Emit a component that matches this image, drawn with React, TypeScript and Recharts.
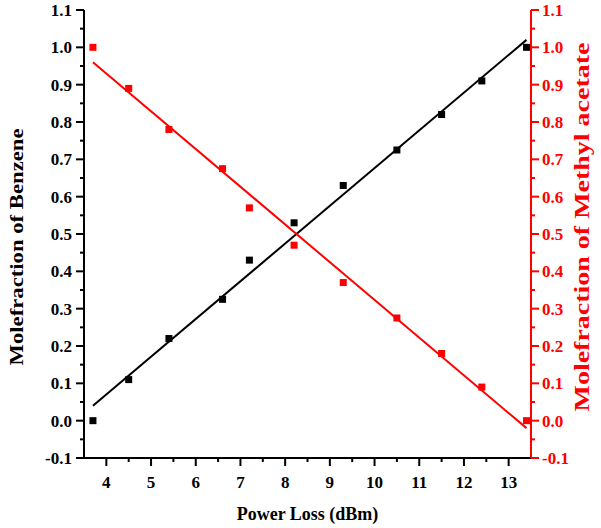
import React from "react";
import { ComposedChart, Scatter, XAxis, YAxis } from "recharts";

document.body.style.margin = "0";

// measured power loss (dBm)
const powerLoss = [3.7, 4.5, 5.4, 6.6, 7.2, 8.2, 9.3, 10.5, 11.5, 12.4, 13.4];
const benzeneFrac = [0.0, 0.11, 0.22, 0.325, 0.43, 0.53, 0.63, 0.725, 0.82, 0.91, 1.0];
const methylFrac = [1.0, 0.89, 0.78, 0.675, 0.57, 0.47, 0.37, 0.275, 0.18, 0.09, 0.0];

// linear fit end points
const fitX = [3.7, 13.4];
const benzeneFitY = [0.04, 1.02];
const methylFitY = [0.96, -0.02];

const xMajor = [4, 5, 6, 7, 8, 9, 10, 11, 12, 13];
const xMinor = [4.5, 5.5, 6.5, 7.5, 8.5, 9.5, 10.5, 11.5, 12.5];
const yMajor = [-0.1, 0.0, 0.1, 0.2, 0.3, 0.4, 0.5, 0.6, 0.7, 0.8, 0.9, 1.0, 1.1];
const yMinor = yMajor.slice(0, -1).map((v) => Math.round((v + 0.05) * 100) / 100);

const benzene = powerLoss.map((x, i) => ({ x, y: benzeneFrac[i] }));
const methyl = powerLoss.map((x, i) => ({ x, y: methylFrac[i] }));
const benzeneFit = fitX.map((x, i) => ({ x, y: benzeneFitY[i] }));
const methylFit = fitX.map((x, i) => ({ x, y: methylFitY[i] }));

const FONT = "'Liberation Serif', 'Times New Roman', serif";
const RED = "#ff0000";

const isMajor = (list: number[], v: number) => list.some((m) => Math.abs(m - v) < 1e-6);

const BottomTick = (props: any) => {
  const { x, y, payload } = props;
  const major = isMajor(xMajor, payload.value);
  return (
    <g>
      <line x1={x} x2={x} y1={y} y2={y + (major ? 8 : 4)} stroke="#000" strokeWidth={2} />
      {major && (
        <text x={x} y={y + 30} textAnchor="middle" fontFamily={FONT} fontWeight="bold" fontSize={17} fill="#000">
          {payload.value}
        </text>
      )}
    </g>
  );
};

const TopTick = (props: any) => {
  const { x, y, payload } = props;
  const major = isMajor(xMajor, payload.value);
  return <line x1={x} x2={x} y1={y} y2={y + (major ? 9 : 5)} stroke="#000" strokeWidth={2} />;
};

const LeftTick = (props: any) => {
  const { x, y, payload } = props;
  const major = isMajor(yMajor, payload.value);
  return (
    <g>
      <line x1={x - (major ? 8 : 4)} x2={x} y1={y} y2={y} stroke="#000" strokeWidth={2} />
      {major && (
        <text x={x - 12} y={y + 6} textAnchor="end" fontFamily={FONT} fontWeight="bold" fontSize={17} fill="#000">
          {payload.value.toFixed(1)}
        </text>
      )}
    </g>
  );
};

const RightTick = (props: any) => {
  const { x, y, payload } = props;
  const major = isMajor(yMajor, payload.value);
  return (
    <g>
      <line x1={x} x2={x + (major ? 8 : 4)} y1={y} y2={y} stroke={RED} strokeWidth={2} />
      {major && (
        <text x={x + 11} y={y + 6} textAnchor="start" fontFamily={FONT} fontWeight="bold" fontSize={17} fill={RED}>
          {payload.value.toFixed(1)}
        </text>
      )}
    </g>
  );
};

const square = (color: string) => (props: any) => (
  <rect x={props.cx - 3.5} y={props.cy - 3.5} width={7} height={7} fill={color} />
);
const noDot = () => <g />;

export default function App() {
  return (
    <div style={{ width: 601, height: 528, background: "#fff" }}>
      <ComposedChart width={601} height={528} margin={{ top: 10, right: 0, bottom: 0, left: 0 }}>
        <XAxis
          dataKey="x"
          type="number"
          domain={[3.5, 13.5]}
          ticks={[...xMajor, ...xMinor]}
          interval={0}
          height={70}
          tickSize={0}
          tickMargin={0}
          tickLine={false}
          tick={<BottomTick />}
          axisLine={{ stroke: "#000", strokeWidth: 2 }}
          allowDataOverflow
        />
        <XAxis
          xAxisId="top"
          orientation="top"
          dataKey="x"
          type="number"
          domain={[3.5, 13.5]}
          ticks={[...xMajor, ...xMinor]}
          interval={0}
          height={0}
          tickSize={0}
          tickMargin={0}
          tickLine={false}
          tick={<TopTick />}
          axisLine={{ stroke: "#000", strokeWidth: 2 }}
          allowDataOverflow
        />
        <YAxis
          yAxisId="left"
          dataKey="y"
          type="number"
          domain={[-0.1, 1.1]}
          ticks={[...yMajor, ...yMinor]}
          interval={0}
          width={84}
          tickSize={0}
          tickMargin={0}
          tickLine={false}
          tick={<LeftTick />}
          axisLine={{ stroke: "#000", strokeWidth: 2 }}
          allowDataOverflow
        />
        <YAxis
          yAxisId="right"
          orientation="right"
          dataKey="y"
          type="number"
          domain={[-0.1, 1.1]}
          ticks={[...yMajor, ...yMinor]}
          interval={0}
          width={70}
          tickSize={0}
          tickMargin={0}
          tickLine={false}
          tick={<RightTick />}
          axisLine={{ stroke: RED, strokeWidth: 2 }}
          allowDataOverflow
        />
        <Scatter
          data={benzeneFit}
          yAxisId="left"
          line={{ stroke: "#000", strokeWidth: 2 }}
          shape={noDot}
          isAnimationActive={false}
        />
        <Scatter
          data={methylFit}
          yAxisId="right"
          line={{ stroke: RED, strokeWidth: 2 }}
          shape={noDot}
          isAnimationActive={false}
        />
        <Scatter data={benzene} yAxisId="left" shape={square("#000")} isAnimationActive={false} />
        <Scatter data={methyl} yAxisId="right" shape={square(RED)} isAnimationActive={false} />
        <text
          x={307.5}
          y={520}
          textAnchor="middle"
          fontFamily={FONT}
          fontWeight="bold"
          fontSize={18}
          fill="#000"
        >
          Power Loss (dBm)
        </text>
        <text
          transform="translate(23, 247) rotate(-90)"
          textAnchor="middle"
          fontFamily={FONT}
          fontWeight="bold"
          fontSize={18}
          fill="#000"
          textLength={237}
          lengthAdjust="spacingAndGlyphs"
        >
          Molefraction of Benzene
        </text>
        <text
          transform="translate(589, 227) rotate(-90)"
          textAnchor="middle"
          fontFamily={FONT}
          fontWeight="bold"
          fontSize={20}
          fill={RED}
          textLength={369}
          lengthAdjust="spacingAndGlyphs"
        >
          Molefraction of Methyl acetate
        </text>
      </ComposedChart>
    </div>
  );
}
